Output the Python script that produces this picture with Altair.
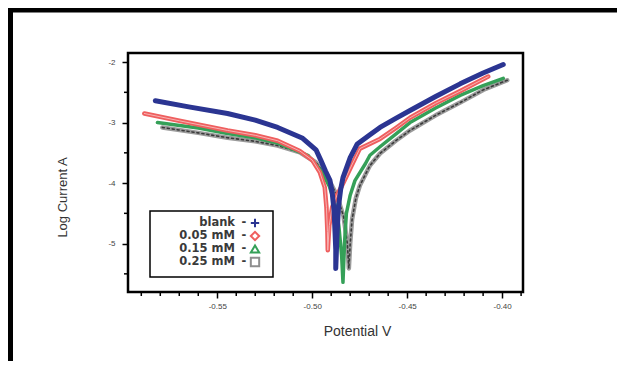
import altair as alt
import pandas as pd

series = ["blank", "0.05 mM", "0.15 mM", "0.25 mM"]
colors = ["#2b3592", "#ef5f5f", "#35a058", "#8e8e8e"]

blank_v = [-0.5826, -0.5650, -0.5446, -0.5300, -0.5182, -0.5050, -0.4980, -0.4955, -0.4930,
           -0.4907, -0.4895, -0.4885, -0.4880, -0.4876, -0.4876,
           -0.4870, -0.4862, -0.4850, -0.4838, -0.4800, -0.4764, -0.4696, -0.4643, -0.4560,
           -0.4485, -0.4350, -0.4221, -0.4100, -0.3994]
blank_log = [-2.64, -2.74, -2.85, -2.96, -3.08, -3.26, -3.45, -3.62, -3.80,
             -3.95, -4.15, -4.45, -4.80, -5.10, -5.41,
             -4.90, -4.40, -4.10, -3.91, -3.58, -3.36, -3.20, -3.08, -2.93,
             -2.80, -2.57, -2.36, -2.18, -2.04]

m005_v = [-0.5884, -0.5700, -0.5446, -0.5300, -0.5182, -0.5065, -0.5000, -0.4960, -0.4934,
          -0.4925, -0.4920, -0.4918,
          -0.4910, -0.4895, -0.4870, -0.4844, -0.4791, -0.4749, -0.4643, -0.4560, -0.4485,
          -0.4350, -0.4221, -0.4073]
m005_log = [-2.85, -2.97, -3.13, -3.21, -3.30, -3.47, -3.62, -3.82, -4.07,
            -4.40, -4.80, -5.11,
            -4.70, -4.40, -4.20, -4.05, -3.70, -3.43, -3.27, -3.09, -2.92,
            -2.68, -2.48, -2.24]

m015_v = [-0.5815, -0.5600, -0.5446, -0.5300, -0.5182, -0.5023, -0.4955, -0.4910, -0.4880,
          -0.4860, -0.4845, -0.4838,
          -0.4830, -0.4820, -0.4800, -0.4775, -0.4720, -0.4696, -0.4643, -0.4560, -0.4485,
          -0.4350, -0.4221, -0.4100, -0.3994]
m015_log = [-3.00, -3.09, -3.18, -3.25, -3.34, -3.54, -3.79, -4.05, -4.35,
            -4.70, -5.20, -5.64,
            -5.00, -4.50, -4.20, -3.96, -3.68, -3.54, -3.40, -3.19, -3.00,
            -2.76, -2.55, -2.39, -2.27]

m025_v = [-0.5789, -0.5600, -0.5446, -0.5300, -0.5182, -0.5065, -0.4980, -0.4920, -0.4870,
          -0.4835, -0.4815, -0.4807,
          -0.4800, -0.4790, -0.4770, -0.4749, -0.4696, -0.4643, -0.4560, -0.4485,
          -0.4350, -0.4221, -0.4100, -0.3973]
m025_log = [-3.08, -3.17, -3.25, -3.31, -3.38, -3.49, -3.66, -3.90, -4.20,
            -4.55, -5.00, -5.41,
            -5.00, -4.60, -4.25, -4.04, -3.71, -3.51, -3.30, -3.13,
            -2.88, -2.67, -2.46, -2.30]

x_major = [-0.55, -0.50, -0.45, -0.40]
x_minor = [-0.59, -0.58, -0.57, -0.56, -0.54, -0.53, -0.52, -0.51, -0.49, -0.48,
           -0.47, -0.46, -0.44, -0.43, -0.42, -0.41, -0.39]
y_major = [-5, -4, -3, -2]
y_minor = [-5.5, -4.5, -3.5, -2.5]

rows = []
for name, vs, ls in zip(series, [blank_v, m005_v, m015_v, m025_v],
                        [blank_log, m005_log, m015_log, m025_log]):
    for i, (v, l) in enumerate(zip(vs, ls)):
        rows.append({"series": name, "v": v, "logi": l, "order": i})
df = pd.DataFrame(rows)

W, H = 395, 239
FONT = "Liberation Sans"

xscale = alt.Scale(domain=[-0.597, -0.389], nice=False, zero=False)
yscale = alt.Scale(domain=[-5.8, -1.85], nice=False, zero=False)

xaxis = alt.Axis(values=x_major, labelExpr="'-' + format(abs(datum.value), '.2f')",
                 tickSize=6, tickWidth=1.5, tickColor="black", domain=False, grid=False,
                 labelFont=FONT, labelFontSize=8, labelColor="#444", labelPadding=4,
                 title="Potential  V", titleFont=FONT, titleFontSize=14,
                 titleFontWeight="normal", titleColor="#333", titleX=229, titleY=39,
                 titleBaseline="middle", titleAlign="center")
yaxis = alt.Axis(values=y_major, labelExpr="'-' + format(abs(datum.value), 'd')",
                 tickSize=6, tickWidth=1.5, tickColor="black", domain=False, grid=False,
                 labelFont=FONT, labelFontSize=8, labelColor="#444", labelPadding=7,
                 title="Log Current  A", titleFont=FONT, titleFontSize=13,
                 titleFontWeight="normal", titleColor="#333", titleX=-66, titleY=144,
                 titleAngle=270, titleBaseline="middle", titleAlign="center")

X = alt.X("v:Q", scale=xscale, axis=xaxis)
Y = alt.Y("logi:Q", scale=yscale, axis=yaxis)


def curve(name, color, width, dash=None):
    kw = dict(color=color, strokeWidth=width, strokeJoin="round", strokeCap="round")
    if dash:
        kw["strokeDash"] = dash
    return alt.Chart(df[df.series == name]).mark_line(**kw).encode(
        x=X, y=Y, order="order:Q")


gray_base = curve("0.25 mM", "#9b9b9b", 4.5)
gray_dark = curve("0.25 mM", "#3a3a3a", 1.6, dash=[2, 3])
green = curve("0.15 mM", colors[2], 3.5)
red = curve("0.05 mM", colors[1], 4.5)
red_in = curve("0.05 mM", "#f7b3b3", 1.0)
blue = curve("blank", colors[0], 5)

xt = pd.DataFrame({"v": x_minor})
yt = pd.DataFrame({"logi": y_minor})
xminor = alt.Chart(xt).mark_rule(color="black", strokeWidth=1.5).encode(
    x=X, y=alt.value(H), y2=alt.value(H + 4))
yminor = alt.Chart(yt).mark_rule(color="black", strokeWidth=1.5).encode(
    y=Y, x=alt.value(0), x2=alt.value(-4))

main = alt.layer(gray_base, gray_dark, green, red, red_in, blue, xminor, yminor)

# page frame lines
one = pd.DataFrame({"a": [0]})
top_line = alt.Chart(one).mark_rule(color="black", strokeWidth=5).encode(
    x=alt.value(-120), x2=alt.value(W + 94), y=alt.value(-43))
left_line = alt.Chart(one).mark_rule(color="black", strokeWidth=5).encode(
    x=alt.value(-117.5), y=alt.value(-45), y2=alt.value(H + 69))

# legend
legend_df = pd.DataFrame({"label": series, "dash": ["-"] * 4})
LY = alt.Y("label:N", scale=alt.Scale(type="point", domain=series, range=[170, 209],
                                      padding=0), axis=None)
box = alt.Chart(one).mark_rect(fill="white", stroke="black", strokeWidth=1.5).encode(
    x=alt.value(22), x2=alt.value(145), y=alt.value(158), y2=alt.value(224))
leg_text = alt.Chart(legend_df).mark_text(
    align="right", baseline="middle", font="DejaVu Sans", fontSize=11.5,
    fontWeight="bold", color="#3a3a3a").encode(x=alt.value(107), y=LY, text="label:N")
leg_dash = alt.Chart(legend_df).mark_text(
    align="center", baseline="middle", font="DejaVu Sans", fontSize=11.5,
    fontWeight="bold", color="#3a3a3a").encode(x=alt.value(116), y=LY, text="dash:N")
plus = "M-1,0L1,0M0,-1L0,1"
leg_sym = alt.Chart(legend_df).mark_point(filled=False, size=70, strokeWidth=2,
                                          opacity=1).encode(
    x=alt.value(127), y=LY,
    shape=alt.Shape("label:N", scale=alt.Scale(domain=series,
                                               range=[plus, "diamond", "triangle-up", "square"]),
                    legend=None),
    color=alt.Color("label:N", scale=alt.Scale(domain=series, range=colors), legend=None))
legend = alt.layer(box, leg_text, leg_dash, leg_sym)

chart = alt.layer(main, legend, top_line, left_line).resolve_scale(
    y="independent", color="independent", shape="independent"
).properties(
    width=W, height=H,
    autosize=alt.AutoSizeParams(type="none"),
    padding={"left": 120, "top": 45, "right": 94, "bottom": 69},
).configure_view(stroke="black", strokeWidth=2.5)

chart.save("out.html", embed_options={"renderer": "svg", "actions": False})
